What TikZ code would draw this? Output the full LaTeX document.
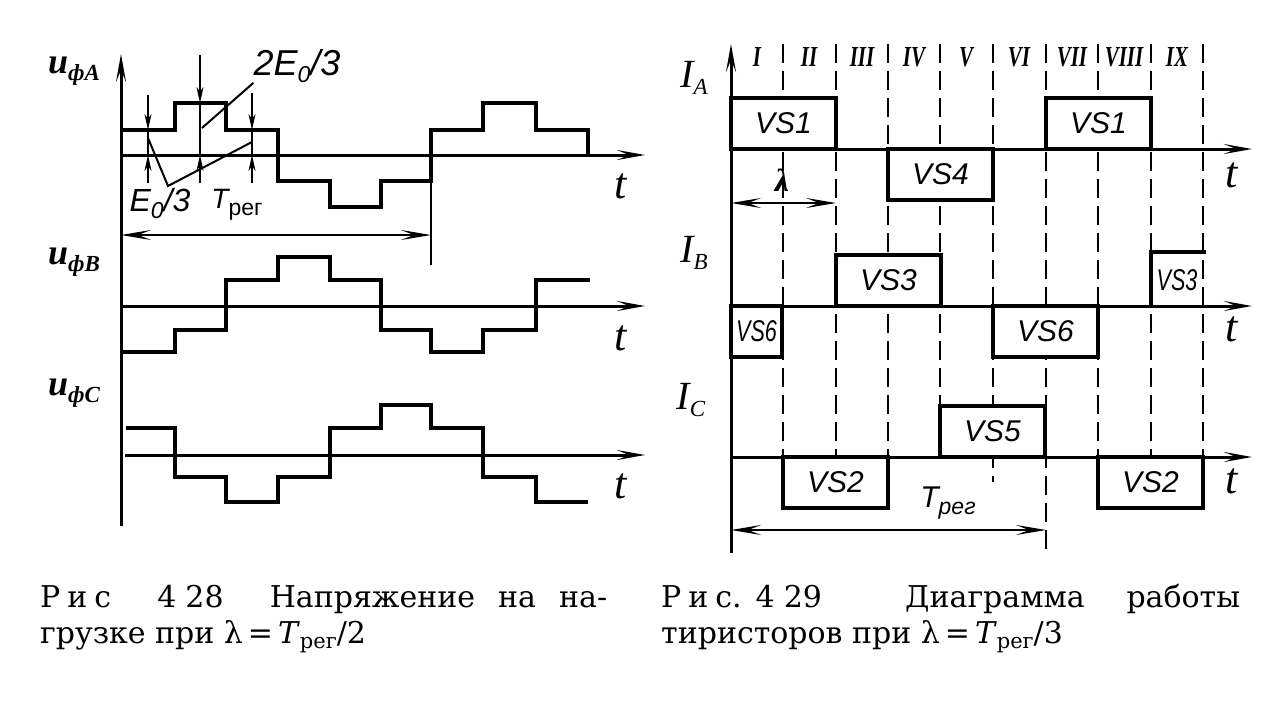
\documentclass[tikz,border=0pt]{standalone}
\usepackage{fontspec}
\usepackage{graphicx}
\setmainfont{Liberation Serif}
\newfontfamily\thyrSketchSansFont{Liberation Sans}
\newfontfamily\thyrSketchCaptionFont{DejaVu Serif}
\usetikzlibrary{arrows.meta}

\tikzset{thyrSketchWave/.style={
    line width=4.6pt,
    line join=miter,
    black,
  }
}
\tikzset{thyrSketchAxis/.style={
    -{Stealth[length=28pt,width=10pt,inset=12pt]},
    line width=3pt,
    black,
  }
}
\tikzset{thyrSketchGrid/.style={
    line width=2.6pt,
    dash pattern=on 19pt off 8pt,
    black,
  }
}
\tikzset{thyrSketchBox/.style={
    font=\thyrSketchSansFont\itshape\fontsize{30pt}{30pt}\selectfont,
    fill=white,
    draw=black,
    line width=4pt,
    inner sep=0pt,
    outer sep=0pt,
    minimum width=105pt,
    minimum height=51pt,
  }
}
\tikzset{thyrSketchDim/.style={
    {Stealth[length=30pt,width=10pt,inset=13pt]}-{Stealth[length=30pt,width=10pt,inset=13pt]},
    line width=2.2pt,
    black,
  }
}
\tikzset{thyrSketchTick/.style={
    -{Stealth[length=16pt,width=7pt,inset=5pt]},
    line width=2pt,
    black,
  }
}
\tikzset{thyrSketchLead/.style={
    line width=2pt,
    black,
  }
}
\tikzset{thyrSketchLabel/.style={
    font=\thyrSketchSansFont\itshape\fontsize{32pt}{32pt}\selectfont,
    inner sep=0pt,
  }
}
\tikzset{thyrSketchVar/.style={
    font=\bfseries\itshape\fontsize{36pt}{36pt}\selectfont,
    inner sep=0pt,
  }
}
\tikzset{thyrSketchT/.style={
    font=\itshape\fontsize{44pt}{44pt}\selectfont,
    inner sep=0pt,
  }
}
\tikzset{thyrSketchRoman/.style={
    font=\bfseries\itshape\fontsize{29pt}{29pt}\selectfont,
    inner sep=0pt,
  }
}
\tikzset{thyrSketchCaption/.style={
    font=\thyrSketchCaptionFont\fontsize{30pt}{30pt}\selectfont,
    inner sep=0pt,
    anchor=base west,
  }
}
\newcommand{\thyrSketchSub}[1]{\raisebox{-7pt}{\fontsize{23pt}{23pt}\selectfont #1}}
\newcommand{\thyrSketchCapSub}[1]{\raisebox{-5pt}{\fontsize{21pt}{21pt}\selectfont #1}}
\newcommand{\thyrSketchNarrow}[1]{\scalebox{0.72}[1]{#1}}

\newcommand{\thyrSketchDrawVoltages}{
  \coordinate (uAxisBottom) at (121,526);
  \coordinate (uAxisTop) at (121,54);
  \draw[thyrSketchAxis] (uAxisBottom) -- (uAxisTop);
  \foreach \ph/\yy/\xs/\yt in {A/155/121/186, B/306/121/338, C/455/125/486} {
    \coordinate (uBase\ph) at (\xs,\yy);
    \coordinate (uEnd\ph) at (645,\yy);
    \draw[thyrSketchAxis] (uBase\ph) -- (uEnd\ph);
    \node[thyrSketchT] (uT\ph) at (621,\yt) {t};
  }
  \draw[thyrSketchWave] (121,130) -| (175,103) -| (226,130) -| (278,181) -| (330,207)
    -| (381,181) -| (431,130) -| (483,103) -| (536,130) -| (588,155);
  \draw[thyrSketchWave] (121,352) -| (175,330) -| (226,280) -| (278,257) -| (330,280)
    -| (381,330) -| (431,352) -| (483,330) -| (536,280) -- (590,280);
  \draw[thyrSketchWave] (126,428) -| (175,477) -| (226,502) -| (278,477) -| (330,428)
    -| (381,405) -| (431,428) -| (483,477) -| (536,502) -- (588,502);
  \node[thyrSketchVar] (uLabelA) at (74,71) {u\thyrSketchSub{фA}};
  \node[thyrSketchVar] (uLabelB) at (74,262) {u\thyrSketchSub{фB}};
  \node[thyrSketchVar] (uLabelC) at (74,393) {u\thyrSketchSub{фC}};
}
\newcommand{\thyrSketchDrawCurrents}{
  \foreach \x/\ybot in {783/457, 836/457, 888/457, 940/457, 993/482, 1046/552, 1098/457, 1151/457, 1203/457} {
    \coordinate (gridTop\x) at (\x,44);
    \coordinate (gridBot\x) at (\x,\ybot);
    \draw[thyrSketchGrid] (gridTop\x) -- (gridBot\x);
  }
  \coordinate (iAxisBottom) at (731,553);
  \coordinate (iAxisTop) at (731,44);
  \draw[thyrSketchAxis] (iAxisBottom) -- (iAxisTop);
  \foreach \ph/\yy/\yt in {A/149/175, B/306/329, C/457/481} {
    \coordinate (iBase\ph) at (731,\yy);
    \coordinate (iEnd\ph) at (1252,\yy);
    \draw[thyrSketchAxis] (iBase\ph) -- (iEnd\ph);
    \node[thyrSketchT] (iT\ph) at (1232,\yt) {t};
  }
  \node[thyrSketchBox, anchor=south west] (vs1a) at (731,149) {VS1};
  \node[thyrSketchBox, anchor=north west] (vs4) at (888,149) {VS4};
  \node[thyrSketchBox, anchor=south west] (vs1b) at (1046,149) {VS1};
  \node[thyrSketchBox, anchor=north west, minimum width=51pt] (vs6a) at (731,306) {\thyrSketchNarrow{VS6}};
  \node[thyrSketchBox, anchor=south west] (vs3a) at (836,306) {VS3};
  \node[thyrSketchBox, anchor=north west] (vs6b) at (993,306) {VS6};
  \node[thyrSketchBox, anchor=south west] (vs5) at (940,457) {VS5};
  \node[thyrSketchBox, anchor=north west] (vs2a) at (783,457) {VS2};
  \node[thyrSketchBox, anchor=north west] (vs2b) at (1098,457) {VS2};
  \coordinate (vs3bStart) at (1151,306);
  \coordinate (vs3bEnd) at (1206,252);
  \draw[line width=4pt] (vs3bStart) |- (vs3bEnd);
  \node[thyrSketchLabel, font=\thyrSketchSansFont\itshape\fontsize{30pt}{30pt}\selectfont] (vs3b) at (1177,280) {\thyrSketchNarrow{VS3}};
  \foreach \x/\r in {757/I, 809/II, 862/III, 914/IV, 966/V, 1019/VI, 1072/VII, 1124/VIII, 1177/IX} {
    \node[thyrSketchRoman] (roman\r) at (\x,57) {\scalebox{0.72}[1]{\r}};
  }
  \node[thyrSketchVar, font=\itshape\fontsize{40pt}{40pt}\selectfont] (iLabelA) at (694,78) {I\thyrSketchSub{A}};
  \node[thyrSketchVar, font=\itshape\fontsize{40pt}{40pt}\selectfont] (iLabelB) at (694,253) {I\thyrSketchSub{B}};
  \node[thyrSketchVar, font=\itshape\fontsize{40pt}{40pt}\selectfont] (iLabelC) at (691,400) {I\thyrSketchSub{C}};
}
\newcommand{\thyrSketchDrawCaptions}{
  \node[thyrSketchCaption] (capLeftA) at (40,607)
    {\makebox[567pt][s]{Р\hspace{7pt}и\hspace{7pt}с \ 4\hspace{9pt}28 \ Напряжение на на-}};
  \node[thyrSketchCaption] (capLeftB) at (40,643)
    {грузке при λ\,=\,\textit{T}\thyrSketchCapSub{рег}/2};
  \node[thyrSketchCaption] (capRightA) at (661,607)
    {\makebox[579pt][s]{Р\hspace{7pt}и\hspace{7pt}с.\hspace{14pt}4\hspace{9pt}29 \ Диаграмма работы}};
  \node[thyrSketchCaption] (capRightB) at (661,643)
    {тиристоров при λ\,=\,\textit{T}\thyrSketchCapSub{рег}/3};
}

\begin{document}
\begin{tikzpicture}[x=1pt,y=-1pt]
  \useasboundingbox (0,0) rectangle (1270,704);
  \thyrSketchDrawVoltages
  \thyrSketchDrawCurrents
  \thyrSketchDrawCaptions

  \foreach \x/\ytop/\ylev in {148/95/130, 200/55/103, 252/93/130} {
    \draw[thyrSketchTick] (\x,\ytop) -- (\x,\ylev);
    \draw[thyrSketchTick] (\x,183) -- (\x,155);
    \draw[thyrSketchLead] (\x,\ylev) -- (\x,155);
  }
  \node[thyrSketchLabel] (eThird) at (160,204) {E\thyrSketchSub{0}/3};
  \coordinate (eTickL) at (148,138);
  \coordinate (eTickR) at (252,142);
  \coordinate (eVertex) at (168,186);
  \draw[thyrSketchLead] (eTickL) -- (eVertex) -- (eTickR);
  \node[thyrSketchLabel, font=\thyrSketchSansFont\itshape\fontsize{36pt}{36pt}\selectfont] (eTwoThird) at (297,66) {2E\thyrSketchSub{0}/3};
  \coordinate (eTwoTick) at (202,128);
  \draw[thyrSketchLead] (eTwoTick) -- (eTwoThird.south west);
  \node[thyrSketchLabel, font=\thyrSketchSansFont\itshape\fontsize{28pt}{28pt}\selectfont] (tPerLeft) at (237,205) {T\thyrSketchSub{\upshape рег}};
  \coordinate (tPerLeftA) at (121,235);
  \coordinate (tPerLeftB) at (431,235);
  \draw[thyrSketchDim] (tPerLeftA) -- (tPerLeftB);
  \coordinate (tPerLeftTop) at (431,181);
  \coordinate (tPerLeftBot) at (431,265);
  \draw[thyrSketchLead] (tPerLeftTop) -- (tPerLeftBot);

  \node[thyrSketchVar, font=\bfseries\itshape\fontsize{32pt}{32pt}\selectfont] (lambdaLabel) at (782,180) {λ};
  \coordinate (lambdaA) at (731,203);
  \coordinate (lambdaB) at (836,203);
  \draw[thyrSketchDim] (lambdaA) -- (lambdaB);
  \node[thyrSketchLabel, font=\thyrSketchSansFont\itshape\fontsize{30pt}{30pt}\selectfont] (tPerRight) at (948,503) {T\thyrSketchSub{рег}};
  \coordinate (tPerRightA) at (731,530);
  \coordinate (tPerRightB) at (1046,530);
  \draw[thyrSketchDim] (tPerRightA) -- (tPerRightB);
\end{tikzpicture}
\end{document}
